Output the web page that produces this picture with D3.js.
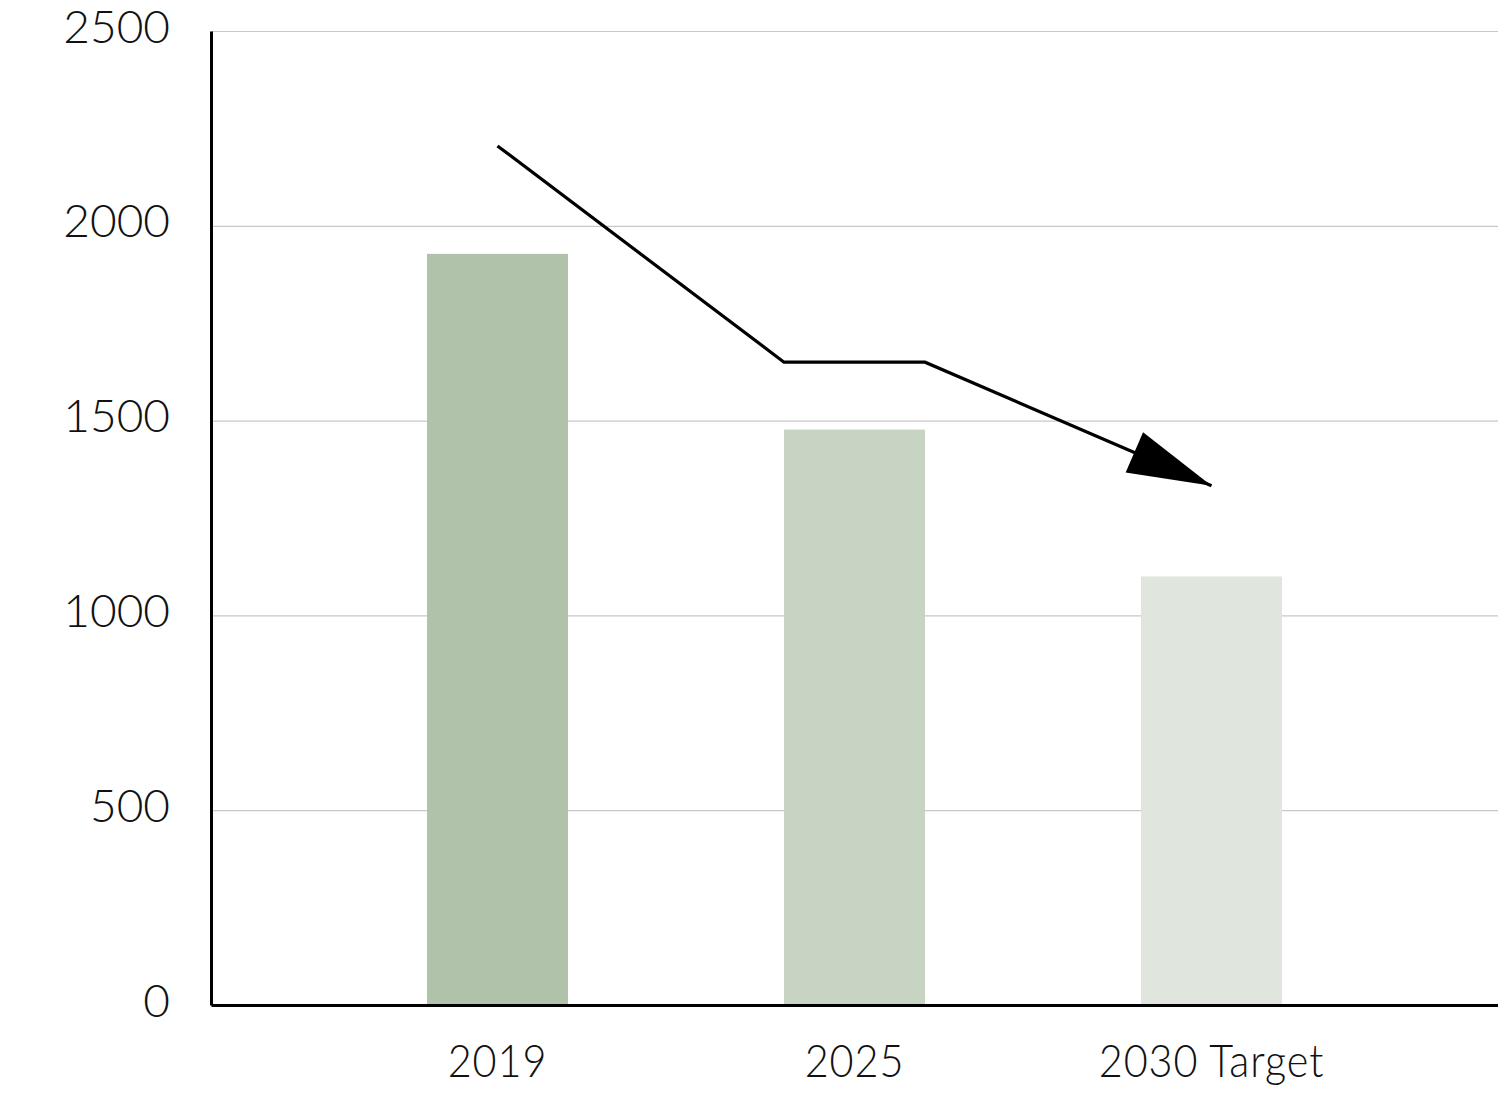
<!DOCTYPE html>
<html>
<head>
    <script src="https://cdn.jsdelivr.net/npm/d3@7/dist/d3.min.js"></script>
    <style>
        body { margin: 0; background: #fff; }
        svg { display: block; }
        text { font-family: Lato, "Open Sans", sans-serif; font-weight: 300; fill: #111; }
    </style>
</head>
<body>
    <svg id="svg-container"></svg>

    <script>
        // data
        const categories = ["2019", "2025", "2030 Target"];
        const values = [1928, 1477, 1100];
        const barColors = ["#b0c2a9", "#c8d4c3", "#e0e5dd"];
        const yTicks = [0, 500, 1000, 1500, 2000, 2500];

        // trend arrow: which bar, where on the bar, and the value it sits at
        const trendCats = ["2019", "2025", "2025", "2030 Target"];
        const trendAnchor = ["center", "left", "right", "center"];
        const trendValues = [2205, 1650, 1650, 1333];

        config = {
            svgWidth: 1498,
            svgHeight: 1098,
            left: 211,
            top: 31,
            right: 0,
            bottom: 93,
        };

        const width = config.svgWidth - config.left - config.right;
        const height = config.svgHeight - config.top - config.bottom;

        const svg = d3.select("#svg-container")
            .attr("width", config.svgWidth)
            .attr("height", config.svgHeight);

        svg.append("defs").append("marker")
            .attr("id", "arrow")
            .attr("markerUnits", "userSpaceOnUse")
            .attr("viewBox", "-86 -24 88 48")
            .attr("markerWidth", 88)
            .attr("markerHeight", 48)
            .attr("refX", 0)
            .attr("refY", 0)
            .attr("orient", "auto")
            .append("path")
            .attr("d", "M0,0 L-84,-22 L-84,22 Z")
            .attr("fill", "#000");

        const g = svg.append("g")
            .attr("transform", `translate(${config.left}, ${config.top})`);

        const x = d3.scaleBand()
            .domain(categories)
            .range([0, width])
            .padding(0.605);

        const y = d3.scaleLinear()
            .domain([0, 2500])
            .range([height, 0]);

        // gridlines
        g.append("g")
            .call(d3.axisLeft(y).tickValues(yTicks).tickSize(-width).tickFormat(""))
            .call(a => a.select(".domain").remove())
            .selectAll("line")
            .attr("stroke", "#c8c8c8")
            .attr("stroke-width", 1.2);

        // bars
        g.selectAll("rect.bar")
            .data(categories)
            .enter()
            .append("rect")
            .attr("class", "bar")
            .attr("x", d => x(d))
            .attr("width", x.bandwidth())
            .attr("y", (d, i) => y(values[i]))
            .attr("height", (d, i) => height - y(values[i]))
            .attr("fill", (d, i) => barColors[i]);

        // trend arrow
        const anchorX = (cat, at) => {
            if (at === "left") return x(cat);
            if (at === "right") return x(cat) + x.bandwidth();
            return x(cat) + x.bandwidth() / 2;
        };
        const trendPts = trendCats.map((c, i) => [anchorX(c, trendAnchor[i]), y(trendValues[i])]);

        g.append("path")
            .attr("d", d3.line()(trendPts))
            .attr("fill", "none")
            .attr("stroke", "#000")
            .attr("stroke-width", 3.2)
            .attr("marker-end", "url(#arrow)");

        // y axis
        g.append("g")
            .call(d3.axisLeft(y).tickValues(yTicks).tickSize(0).tickPadding(41).tickFormat(d3.format("d")))
            .call(a => a.select(".domain").attr("stroke", "#000").attr("stroke-width", 3))
            .selectAll("text")
            .attr("dy", "0.24em")
            .style("font-size", "46px")
            .style("font-family", "Lato, sans-serif")
            .style("font-weight", 300)
            .attr("fill", "#111");

        // x axis
        g.append("g")
            .attr("transform", `translate(0, ${height})`)
            .call(d3.axisBottom(x).tickSize(0).tickSizeOuter(0))
            .call(a => a.select(".domain").attr("stroke", "#000").attr("stroke-width", 3))
            .selectAll("text")
            .attr("y", 72)
            .attr("dy", 0)
            .attr("transform", "scale(0.9, 1)")
            .style("font-size", "46px")
            .style("letter-spacing", "1px")
            .style("font-family", "Lato, sans-serif")
            .style("font-weight", 300)
            .attr("fill", "#111");
    </script>
</body>
</html>
